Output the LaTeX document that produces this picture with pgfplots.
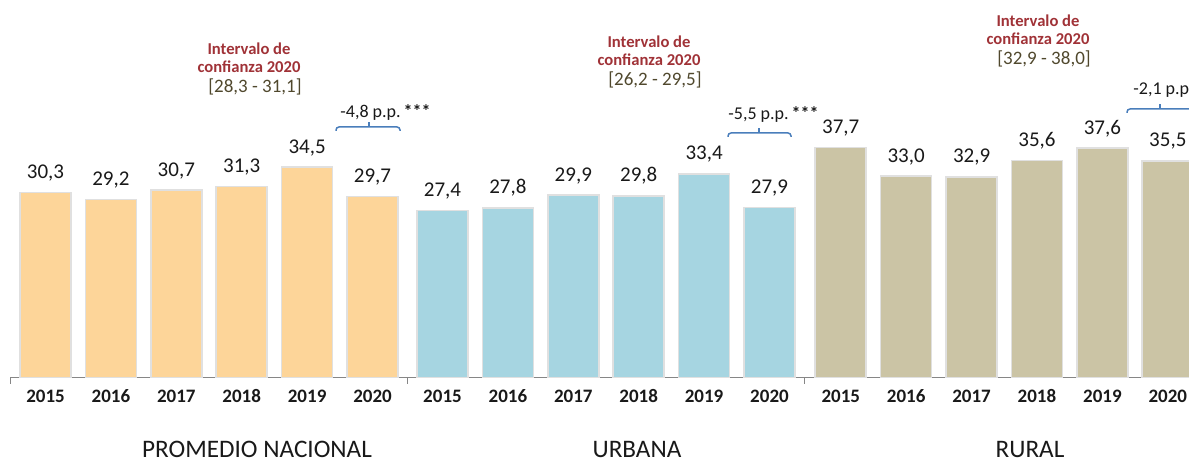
\documentclass[border=0pt]{standalone}
\usepackage{pgfplots}
\pgfplotsset{compat=1.18}
\usepackage{fontspec}
\setmainfont{Carlito}
\definecolor{cOr}{RGB}{253,213,153}
\definecolor{cBl}{RGB}{166,213,225}
\definecolor{cTn}{RGB}{203,196,165}
\definecolor{cRed}{RGB}{160,50,55}
\definecolor{cOl}{RGB}{80,72,45}
\definecolor{cBr}{RGB}{74,126,187}
\definecolor{cAx}{RGB}{134,134,134}
\definecolor{cTx}{RGB}{25,25,25}
\begin{document}
\begin{tikzpicture}
\path[use as bounding box] (0,0) rectangle (594.5pt,230.5pt);
\clip (0,0) rectangle (594.5pt,230.5pt);
\begin{axis}[
  at={(5pt,41.75pt)}, anchor=south west,
  x=32.7pt, y=3.05pt,
  xmin=-0.543, xmax=18.5, ymin=0, ymax=62,
  axis x line*=bottom, axis y line=none,
  axis line style={cAx, line width=0.75pt},
  major tick length=0pt,
  xtick={0,1,2,3,4,5,6.07,7.07,8.07,9.07,10.07,11.07,12.16,13.16,14.16,15.16,16.16,17.16},
  xticklabels={2015,2016,2017,2018,2019,2020,2015,2016,2017,2018,2019,2020,2015,2016,2017,2018,2019,2020},
  xticklabel style={font=\bfseries\fontsize{9.5}{11}\selectfont, text=cTx, anchor=base, yshift=-12.25pt},
  ybar, bar width=25.5pt, bar shift=0pt,
  clip=false,
  nodes near coords,
  every node near coord/.append style={font=\fontsize{10.5}{12}\selectfont, text=cTx, anchor=base, yshift=7pt},
  /pgf/number format/.cd, fixed, fixed zerofill, precision=1, use comma, assume math mode=true,
]
\addplot[fill=cOr, draw=black!12, line width=0.8pt] coordinates {(0,30.3) (1,29.2) (2,30.7) (3,31.3) (4,34.5) (5,29.7)};
\addplot[fill=cBl, draw=black!12, line width=0.8pt] coordinates {(6.07,27.4) (7.07,27.8) (8.07,29.9) (9.07,29.8) (10.07,33.4) (11.07,27.9)};
\addplot[fill=cTn, draw=black!12, line width=0.8pt] coordinates {(12.16,37.7) (13.16,33.0) (14.16,32.9) (15.16,35.6) (16.16,37.6) (17.16,35.5)};
\end{axis}
\begin{scope}[shift={(0,230.5pt)}, x=0.5pt, y=-0.5pt]
  \foreach \sx in {10,407,804} \draw[cAx, line width=0.5pt] (\sx,377.5) -- (\sx,384);
  \tikzset{ci1/.style={font=\bfseries\fontsize{8.3}{10}\selectfont, text=cRed, anchor=base, inner sep=0pt},
           ci2/.style={font=\fontsize{9.5}{11}\selectfont, text=cOl, anchor=base, inner sep=0pt},
           dl/.style={font=\fontsize{9}{11}\selectfont, text=cTx, anchor=base west, inner sep=0pt},
           br/.style={cBr, line width=0.75pt, rounded corners=1.5pt},
           cat/.style={font=\fontsize{12.6}{14}\selectfont, text=cTx, anchor=base, inner sep=0pt}}
  \node[ci1] at (249,55) {Intervalo de};
  \node[ci1] at (249,73) {confianza 2020};
  \node[ci2] at (255,93) {[28,3 - 31,1]};
  \node[ci1] at (649,48) {Intervalo de};
  \node[ci1] at (649,66) {confianza 2020};
  \node[ci2] at (655,86) {[26,2 - 29,5]};
  \node[ci1] at (1038,27) {Intervalo de};
  \node[ci1] at (1038,45) {confianza 2020};
  \node[ci2] at (1044,65) {[32,9 - 38,0]};
  \node[dl] at (340,118) {-4,8 p.p.\,\textbf{***}};
  \node[dl] at (728,120) {-5,5 p.p.\,\textbf{***}};
  \node[dl] at (1133,95) {-2,1 p.p.\,\textbf{***}};
  % braces
  \draw[br] (336,131) -- (336,127) -- (400,127) -- (400,131);
  \draw[cBr, line width=0.75pt] (369,127) -- (369,122);
  \draw[br] (728,137) -- (728,133) -- (791,133) -- (791,137);
  \draw[cBr, line width=0.75pt] (759,133) -- (759,128);
  \draw[br] (1127,113) -- (1127,109) -- (1193,109) -- (1193,113);
  \draw[cBr, line width=0.75pt] (1160,109) -- (1160,104);
  \node[cat] at (257,457) {PROMEDIO NACIONAL};
  \node[cat] at (637,457) {URBANA};
  \node[cat] at (1030,457) {RURAL};
\end{scope}
\end{tikzpicture}
\end{document}
